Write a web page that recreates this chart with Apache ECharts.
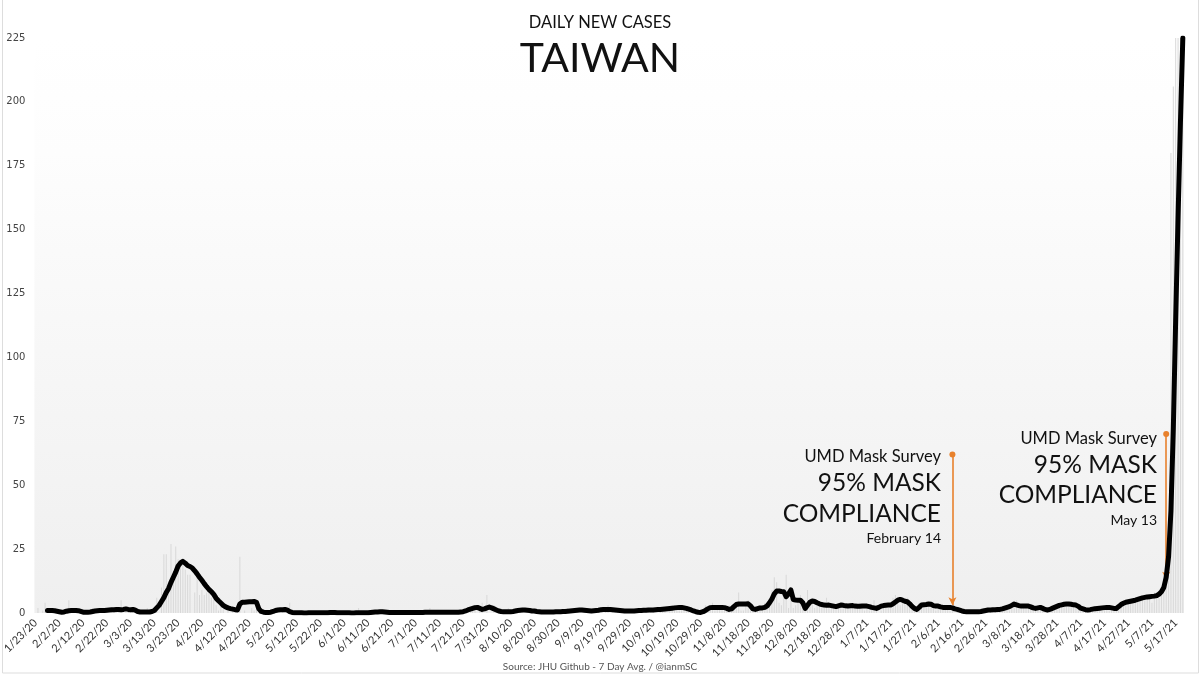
<!DOCTYPE html>
<html>
<head>
<meta charset="utf-8">
<script src="https://cdn.jsdelivr.net/npm/echarts@6/dist/echarts.min.js"></script>
<style>
  html, body { margin: 0; padding: 0; background: #fff; }
  #chart { width: 1200px; height: 675px; }
</style>
</head>
<body>
<div id="chart"></div>
<script>
  // 7 day average, one value per day from 1/23/20
  var avg7 = [
    null, null, null, null, null, 1.0, 1.0, 1.0, 0.9, 0.7,
    0.5, 0.3, 0.4, 0.7, 0.9, 1.0, 1.0, 1.0, 0.9, 0.6,
    0.3, 0.3, 0.3, 0.4, 0.6, 0.8, 0.9, 1.0, 1.0, 1.0,
    1.1, 1.2, 1.3, 1.3, 1.4, 1.4, 1.3, 1.4, 1.6, 1.4,
    1.3, 1.4, 1.1, 0.6, 0.4, 0.4, 0.4, 0.4, 0.4, 0.6,
    1.0, 2.0, 3.0, 4.5, 6.0, 8.0, 9.6, 12.0, 14.0, 16.0,
    18.4, 19.6, 20.2, 19.5, 18.6, 18.2, 17.6, 16.5, 15.3, 14.0,
    12.8, 11.5, 10.3, 9.2, 8.4, 7.3, 5.8, 4.8, 3.9, 3.0,
    2.4, 2.0, 1.7, 1.5, 1.3, 1.2, 3.5, 4.2, 4.2, 4.3,
    4.4, 4.4, 4.5, 4.2, 1.6, 0.6, 0.3, 0.2, 0.2, 0.3,
    0.6, 1.0, 1.2, 1.3, 1.3, 1.4, 1.1, 0.5, 0.2, 0.1,
    0.1, 0.1, 0.1, 0, 0, 0.1, 0.1, 0.1, 0.1, 0.1,
    0.1, 0.1, 0.1, 0.1, 0.2, 0.2, 0.2, 0.1, 0.1, 0.1,
    0.1, 0.1, 0.1, 0, 0, 0.1, 0.1, 0.1, 0.1, 0.1,
    0.1, 0.2, 0.3, 0.4, 0.4, 0.5, 0.5, 0.4, 0.3, 0.2,
    0.2, 0.2, 0.2, 0.2, 0.2, 0.2, 0.2, 0.2, 0.2, 0.2,
    0.2, 0.2, 0.2, 0.2, 0.3, 0.3, 0.3, 0.3, 0.3, 0.3,
    0.3, 0.3, 0.3, 0.3, 0.3, 0.3, 0.3, 0.3, 0.3, 0.4,
    0.5, 0.8, 1.2, 1.5, 1.8, 2.1, 2.2, 1.8, 1.4, 1.6,
    2.0, 2.3, 2.0, 1.6, 1.2, 0.8, 0.6, 0.5, 0.5, 0.5,
    0.5, 0.6, 0.8, 1.0, 1.1, 1.2, 1.2, 1.1, 1.0, 0.8,
    0.8, 0.6, 0.5, 0.4, 0.4, 0.4, 0.4, 0.4, 0.4, 0.5,
    0.5, 0.5, 0.6, 0.6, 0.7, 0.8, 0.9, 1.0, 1.1, 1.2,
    1.2, 1.1, 1.0, 0.9, 0.8, 0.9, 1.0, 1.1, 1.3, 1.4,
    1.4, 1.4, 1.4, 1.3, 1.2, 1.1, 1.0, 0.9, 0.8, 0.8,
    0.8, 0.8, 0.8, 0.9, 1.0, 1.0, 1.1, 1.1, 1.2, 1.2,
    1.2, 1.3, 1.4, 1.4, 1.5, 1.6, 1.7, 1.8, 1.9, 2.0,
    2.1, 2.2, 2.2, 2.0, 1.8, 1.5, 1.2, 0.8, 0.5, 0.3,
    0.2, 0.5, 1.0, 1.6, 2.1, 2.2, 2.2, 2.2, 2.2, 2.2,
    2.1, 1.8, 1.4, 1.6, 2.5, 3.3, 3.5, 3.5, 3.5, 3.5,
    3.6, 2.8, 1.6, 1.4, 1.7, 2.0, 2.0, 2.2, 2.8, 4.0,
    5.5, 7.5, 8.6, 8.6, 8.4, 8.3, 6.4, 7.5, 9.0, 5.3,
    5.1, 5.0, 5.0, 4.0, 1.8, 3.0, 4.2, 4.7, 4.5, 4.0,
    3.6, 3.3, 3.1, 3.0, 3.1, 2.9, 2.7, 2.5, 2.8, 3.1,
    3.0, 2.8, 2.7, 2.8, 2.9, 2.7, 2.6, 2.6, 2.7, 2.7,
    2.7, 2.5, 2.2, 2.0, 1.8, 2.2, 2.7, 2.9, 3.0, 3.1,
    3.1, 3.6, 4.3, 5.0, 5.3, 5.0, 4.6, 4.4, 3.6, 2.6,
    1.8, 1.4, 2.2, 3.1, 3.2, 3.3, 3.5, 3.4, 2.9, 2.7,
    2.7, 2.4, 2.2, 2.2, 2.2, 2.2, 2.0, 1.6, 1.4, 1.1,
    0.8, 0.6, 0.5, 0.5, 0.5, 0.5, 0.5, 0.5, 0.6, 0.8,
    1.0, 1.2, 1.2, 1.3, 1.3, 1.4, 1.4, 1.6, 1.9, 2.2,
    2.5, 3.0, 3.5, 3.2, 2.9, 2.7, 2.7, 2.7, 2.7, 2.4,
    2.0, 1.8, 2.0, 2.2, 1.8, 1.4, 1.2, 1.4, 1.8, 2.2,
    2.6, 3.0, 3.2, 3.4, 3.5, 3.5, 3.4, 3.2, 3.1, 2.6,
    1.9, 1.6, 1.3, 1.2, 1.3, 1.5, 1.7, 1.8, 1.9, 2.0,
    2.1, 2.2, 2.2, 2.0, 1.8, 1.8, 2.5, 3.3, 3.8, 4.2,
    4.4, 4.6, 4.8, 5.0, 5.3, 5.6, 5.9, 6.1, 6.3, 6.4,
    6.5, 6.6, 6.8, 7.4, 8.3, 10.0, 14.0, 22.0, 40.0, 72.0,
    115, 155, 192, 225
  ];

  // daily reported cases (thin grey bars)
  var daily = [
    0, 2, 0, 1, 4, 1, 1, 0, 1, 0,
    0, 0, 1, 1, 5, 0, 1, 1, 0, 0,
    0, 0, 0, 0, 2, 0, 2, 0, 2, 2,
    2, 0, 2, 1, 1, 2, 5, 0, 1, 1,
    1, 1, 2, 0, 0, 0, 1, 2, 1, 0,
    2, 6, 0, 10, 23, 23, 8, 27, 16, 26,
    21, 20, 19, 17, 15, 15, 0, 8, 16, 7,
    9, 7, 8, 8, 6, 6, 3, 1, 3, 3,
    0, 3, 0, 2, 0, 0, 22, 0, 1, 0,
    0, 2, 1, 3, 0, 1, 0, 0, 0, 0,
    0, 0, 0, 0, 1, 0, 0, 4, 0, 0,
    0, 1, 0, 0, 0, 0, 0, 0, 0, 0,
    0, 0, 0, 0, 0, 0, 0, 1, 0, 0,
    0, 0, 0, 0, 0, 0, 2, 0, 0, 0,
    0, 0, 0, 0, 0, 0, 0, 1, 1, 1,
    1, 1, 0, 1, 1, 0, 0, 0, 0, 0,
    0, 0, 0, 0, 0, 0, 2, 0, 0, 1,
    0, 0, 0, 0, 0, 0, 0, 0, 0, 0,
    0, 1, 0, 1, 2, 3, 0, 2, 4, 0,
    7, 0, 0, 3, 1, 0, 0, 0, 1, 2,
    0, 0, 2, 0, 1, 2, 1, 0, 1, 0,
    0, 0, 1, 0, 0, 0, 1, 0, 1, 0,
    0, 1, 0, 0, 2, 0, 0, 1, 1, 0,
    0, 2, 1, 1, 1, 1, 0, 1, 2, 0,
    1, 3, 0, 1, 2, 1, 1, 0, 0, 1,
    0, 1, 0, 1, 1, 2, 0, 0, 1, 2,
    2, 0, 0, 1, 2, 2, 0, 1, 3, 3,
    2, 1, 3, 3, 2, 1, 0, 0, 0, 0,
    0, 1, 3, 1, 3, 4, 1, 2, 2, 2,
    1, 2, 3, 1, 2, 4, 8, 1, 1, 3,
    5, 1, 1, 2, 1, 3, 1, 4, 2, 4,
    9, 14, 12, 4, 3, 9, 15, 2, 6, 2,
    3, 4, 7, 5, 4, 9, 3, 5, 2, 3,
    3, 3, 4, 6, 2, 3, 3, 3, 2, 4,
    2, 3, 3, 4, 2, 2, 3, 4, 3, 1,
    2, 1, 3, 5, 2, 0, 1, 2, 3, 2,
    2, 6, 7, 6, 3, 5, 4, 6, 5, 2,
    1, 1, 4, 3, 3, 3, 3, 3, 2, 1,
    3, 2, 3, 2, 2, 1, 1, 0, 2, 1,
    0, 0, 1, 0, 1, 1, 0, 1, 1, 2,
    0, 1, 2, 1, 2, 2, 1, 1, 2, 2,
    1, 3, 4, 5, 3, 2, 3, 2, 2, 3,
    3, 2, 2, 3, 1, 1, 1, 2, 2, 2,
    3, 2, 3, 4, 4, 4, 3, 3, 3, 2,
    1, 1, 1, 2, 1, 2, 1, 2, 2, 2,
    2, 3, 1, 2, 1, 1, 3, 4, 5, 4,
    4, 4, 5, 4, 6, 5, 6, 5, 6, 7,
    4, 8, 7, 6, 7, 16, 13, 29, 180, 206,
    333, 240, 267, 286
  ];

  var yTicks = [0, 25, 50, 75, 100, 125, 150, 175, 200, 225];

  // annotation: [date, top value, arrow tip value]
  var febNote = ['2/12/21', 62, 3];
  var mayNote = ['5/13/21', 70, 13];

  var dates = [];
  var start = Date.UTC(2020, 0, 23);
  for (var i = 0; i < avg7.length; i++) {
    var d = new Date(start + i * 86400000);
    dates.push((d.getUTCMonth() + 1) + '/' + d.getUTCDate() + '/' + String(d.getUTCFullYear()).slice(2));
  }

  var orange = '#e8812c';
  var font = 'Lato, "Noto Sans", sans-serif';

  function noteText (x, y, text, size) {
    return {
      type: 'text', x: x, y: y, silent: true,
      style: {
        text: text, fill: '#111', font: size + 'px ' + font,
        textAlign: 'right', textVerticalAlign: 'middle', align: 'right', verticalAlign: 'middle'
      }
    }
  }

  var myChart = echarts.init(document.getElementById('chart'));
  myChart.setOption({
    animation: false,
    backgroundColor: '#fff',
    title: [
      {
        text: 'DAILY NEW CASES', left: 'center', top: 9,
        textStyle: { fontFamily: font, fontSize: 16.5, fontWeight: 'normal', color: '#111' }
      },
      {
        text: 'TAIWAN', left: 'center', top: 33,
        textStyle: { fontFamily: font, fontSize: 41, fontWeight: 'normal', color: '#111' }
      }
    ],
    grid: {
      left: 33, right: 16, top: 38, bottom: 62,
      show: true, borderWidth: 0,
      backgroundColor: new echarts.graphic.LinearGradient(0, 0, 0, 1, [
        { offset: 0, color: '#ffffff' },
        { offset: 0.2, color: '#fdfdfd' },
        { offset: 1, color: '#efefef' }
      ])
    },
    xAxis: {
      type: 'category',
      data: dates,
      boundaryGap: true,
      axisLine: { show: false },
      axisTick: { show: false },
      axisLabel: {
        interval: 9, rotate: 45, margin: 8,
        color: '#333', fontFamily: font, fontSize: 11
      },
      splitLine: { show: false }
    },
    yAxis: {
      type: 'value',
      min: yTicks[0], max: yTicks[yTicks.length - 1], interval: 25,
      axisLine: { show: false },
      axisTick: { show: false },
      splitLine: { show: false },
      axisLabel: { color: '#444', fontFamily: 'Verdana, "DejaVu Sans", sans-serif', fontSize: 10, margin: 9 }
    },
    series: [
      {
        type: 'bar',
        data: daily,
        barWidth: 1,
        itemStyle: { color: '#d8d8d8' },
        clip: true,
        silent: true
      },
      {
        type: 'line',
        data: avg7,
        symbol: 'none',
        lineStyle: { color: '#000', width: 5, cap: 'round', join: 'round' },
        z: 5,
        markLine: {
          silent: true,
          symbol: ['circle', 'arrow'],
          symbolSize: [6, 8],
          label: { show: false },
          lineStyle: { color: orange, width: 1.6, type: 'solid' },
          data: [
            [{ coord: [febNote[0], febNote[1]] }, { coord: [febNote[0], febNote[2]] }],
            [{ coord: [mayNote[0], mayNote[1]] }, { coord: [mayNote[0], mayNote[2]] }]
          ]
        }
      }
    ],
    graphic: [
      noteText(941, 457, 'UMD Mask Survey', 16.5),
      noteText(941, 483, '95% MASK', 24.5),
      noteText(941, 514, 'COMPLIANCE', 24.5),
      noteText(941, 538, 'February 14', 14),
      noteText(1157, 439, 'UMD Mask Survey', 16.5),
      noteText(1157, 465, '95% MASK', 24.5),
      noteText(1157, 495, 'COMPLIANCE', 24.5),
      noteText(1157, 520, 'May 13', 14),
      {
        type: 'text', x: 600, y: 667, silent: true,
        style: {
          text: 'Source: JHU Github - 7 Day Avg. / @ianmSC', fill: '#555', font: '10px ' + font,
          textAlign: 'center', textVerticalAlign: 'middle', align: 'center', verticalAlign: 'middle'
        }
      },
      {
        type: 'rect', silent: true, z: -1,
        shape: { x: 2.5, y: -2, width: 1196, height: 675 },
        style: { fill: 'none', stroke: '#dddddd', lineWidth: 1 }
      }
    ]
  });
</script>
</body>
</html>
